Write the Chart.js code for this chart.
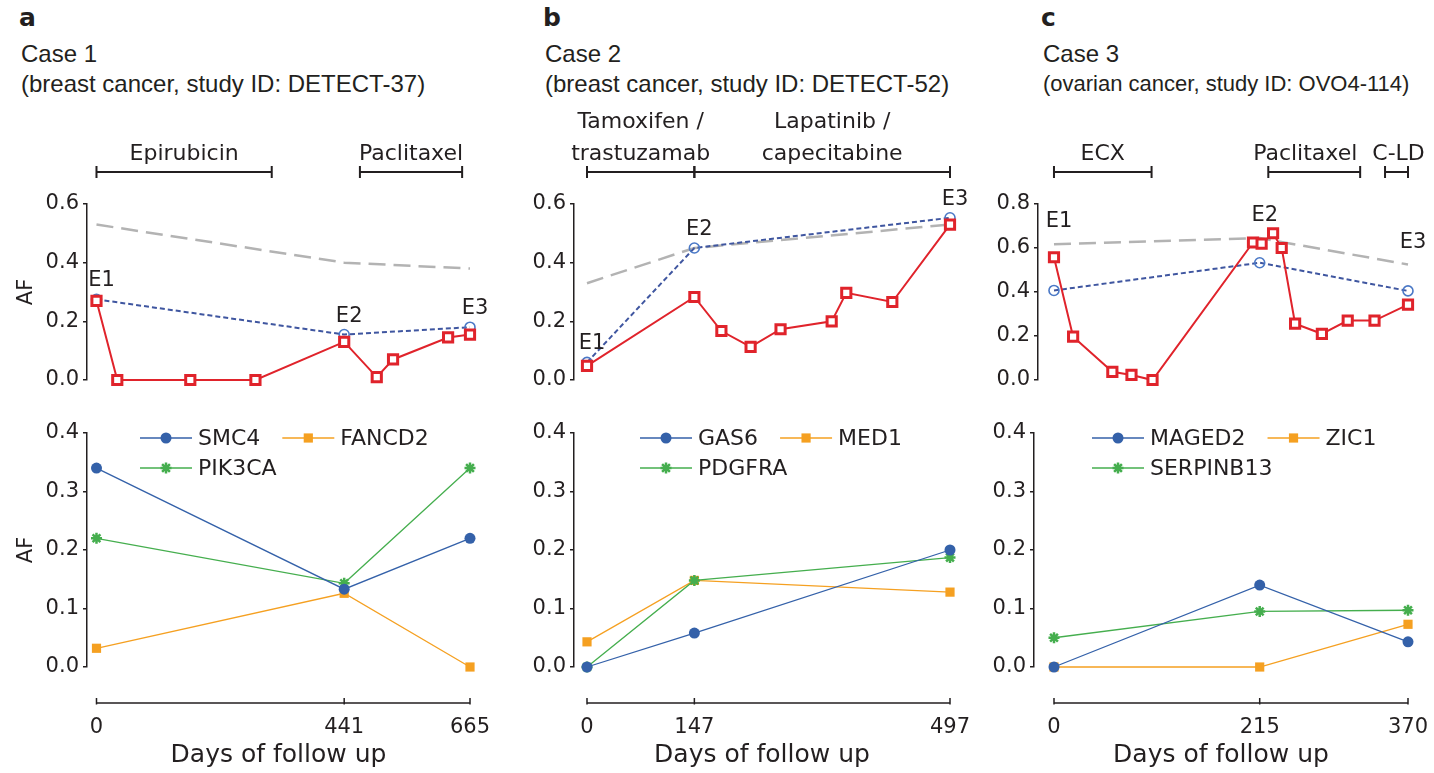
<!DOCTYPE html>
<html><head><meta charset="utf-8">
<script src="https://cdn.jsdelivr.net/npm/chart.js@4.4.1/dist/chart.umd.min.js"></script>
<style>
html,body{margin:0;padding:0;background:#fff;width:1434px;height:773px;overflow:hidden;}
canvas{position:absolute;}
.t{position:absolute;font-family:"Liberation Sans",Arial,sans-serif;color:#231f20;white-space:nowrap;font-size:24px;line-height:24px;}
.L{font-family:"DejaVu Sans",sans-serif;font-weight:bold;font-size:25px;line-height:26px;}
</style></head><body>
<div class="t L" style="left:19px;top:5px">a</div>
<div class="t" style="left:21px;top:42px">Case 1</div>
<div class="t" style="left:21px;top:72px">(breast cancer, study ID: DETECT-37)</div>
<div class="t L" style="left:543px;top:5px">b</div>
<div class="t" style="left:545px;top:42px">Case 2</div>
<div class="t" style="left:545px;top:72px">(breast cancer, study ID: DETECT-52)</div>
<div class="t L" style="left:1041px;top:5px">c</div>
<div class="t" style="left:1043px;top:42px">Case 3</div>
<div class="t" style="left:1043px;top:72px;font-size:22px;line-height:24px">(ovarian cancer, study ID: OVO4-114)</div>

<canvas id="atop" width="496" height="300" style="left:0px;top:100px"></canvas>
<canvas id="btop" width="489" height="300" style="left:487px;top:100px"></canvas>
<canvas id="ctop" width="464" height="300" style="left:970px;top:100px"></canvas>
<canvas id="abot" width="496" height="373" style="left:0px;top:400px"></canvas>
<canvas id="bbot" width="489" height="373" style="left:487px;top:400px"></canvas>
<canvas id="cbot" width="464" height="373" style="left:970px;top:400px"></canvas>

<script>
// ---------------- DATA ----------------
// Panel a - Case 1
const a_ddDays   = [0, 37, 167, 283, 441, 499, 528, 626, 665];
const a_ddAF     = [0.27, 0.0, 0.0, 0.0, 0.13, 0.01, 0.07, 0.145, 0.155];
const a_wesDays  = [0, 441, 665];
const a_wesAF    = [0.275, 0.155, 0.18];
const a_purityAF = [0.53, 0.40, 0.38];
const a_eLabels  = ['E1', 'E2', 'E3'];
const a_treatNames = [['Epirubicin'], ['Paclitaxel']];
const a_treatStart = [0, 469];
const a_treatEnd   = [312, 651];
const a_genes   = ['SMC4', 'FANCD2', 'PIK3CA'];
const a_SMC4    = [0.34, 0.133, 0.22];
const a_FANCD2  = [0.032, 0.126, 0.0];
const a_PIK3CA  = [0.22, 0.143, 0.34];
const a_xTicks  = [0, 441, 665];

// Panel b - Case 2
const b_ddDays   = [0, 147, 184, 224, 265, 335, 355, 418, 497];
const b_ddAF     = [0.048, 0.283, 0.167, 0.113, 0.173, 0.20, 0.297, 0.266, 0.53];
const b_wesDays  = [0, 147, 497];
const b_wesAF    = [0.06, 0.45, 0.553];
const b_purityAF = [0.33, 0.45, 0.53];
const b_eLabels  = ['E1', 'E2', 'E3'];
const b_treatNames = [['Tamoxifen /', 'trastuzamab'], ['Lapatinib /', 'capecitabine']];
const b_treatStart = [0, 147];
const b_treatEnd   = [147, 497];
const b_genes   = ['GAS6', 'MED1', 'PDGFRA'];
const b_GAS6    = [0.0, 0.058, 0.2];
const b_MED1    = [0.043, 0.148, 0.128];
const b_PDGFRA  = [0.0, 0.148, 0.187];
const b_xTicks  = [0, 147, 497];

// Panel c - Case 3
const c_ddDays   = [0, 20, 61, 81, 103, 208, 217, 229, 238, 252, 280, 307, 335, 370];
const c_ddAF     = [0.558, 0.197, 0.037, 0.023, 0.0, 0.625, 0.62, 0.667, 0.6, 0.256, 0.21, 0.27, 0.27, 0.343];
const c_wesDays  = [0, 215, 370];
const c_wesAF    = [0.407, 0.533, 0.405];
const c_purityAF = [0.617, 0.645, 0.525];
const c_eLabels  = ['E1', 'E2', 'E3'];
const c_treatNames = [['ECX'], ['Paclitaxel'], ['C-LD']];
const c_treatStart = [0, 224, 346];
const c_treatEnd   = [102, 320, 370];
const c_genes     = ['MAGED2', 'ZIC1', 'SERPINB13'];
const c_MAGED2    = [0.0, 0.14, 0.043];
const c_ZIC1      = [0.0, 0.0, 0.073];
const c_SERPINB13 = [0.05, 0.095, 0.097];
const c_xTicks    = [0, 215, 370];

const yTicksTop06 = [0, 0.2, 0.4, 0.6];
const yTicksTop08 = [0, 0.2, 0.4, 0.6, 0.8];
const yTicksBottom = [0, 0.1, 0.2, 0.3, 0.4];

// ---------------- STYLE / LAYOUT ----------------
const INK = '#231f20';
const COL = {red:'#e0232b', wesLine:'#3f56a0', wesPt:'#4a78c6', gray:'#b3b3b3',
             blue:'#3461a9', orange:'#f5a021', green:'#45ae4e'};
Chart.defaults.font.family = '"DejaVu Sans", sans-serif';
Chart.defaults.color = INK;

const panels = [
  {id:'a', dd:[a_ddDays,a_ddAF], wes:[a_wesDays,a_wesAF], purity:a_purityAF, eLabels:a_eLabels,
   treat:[a_treatNames,a_treatStart,a_treatEnd], treatDx:[0,0], genes:a_genes, geneVals:[a_SMC4,a_FANCD2,a_PIK3CA],
   xTicks:a_xTicks, yTop:yTicksTop06, showAF:true,
   yWTop:87, yWBot:87, xminTop:-16.9, xminBot:-16.9, padR:26, eAnchor:['dd','wes'], eGap:13, legX:53},
  {id:'b', dd:[b_ddDays,b_ddAF], wes:[b_wesDays,b_wesAF], purity:b_purityAF, eLabels:b_eLabels,
   treat:[b_treatNames,b_treatStart,b_treatEnd], treatDx:[0,10], genes:b_genes, geneVals:[b_GAS6,b_MED1,b_PDGFRA],
   xTicks:b_xTicks, yTop:yTicksTop06, showAF:false,
   yWTop:87, yWBot:87, xminTop:-17.8, xminBot:-17.8, padR:26, eAnchor:['dd','wes'], eGap:13, legX:66},
  {id:'c', dd:[c_ddDays,c_ddAF], wes:[c_wesDays,c_wesAF], purity:c_purityAF, eLabels:c_eLabels,
   treat:[c_treatNames,c_treatStart,c_treatEnd], treatDx:[0,-9,2], genes:c_genes, geneVals:[c_MAGED2,c_ZIC1,c_SERPINB13],
   xTicks:c_xTicks, yTop:yTicksTop08, showAF:false,
   yWTop:68, yWBot:64, xminTop:-16.7, xminBot:-20.9, padR:26, eAnchor:['dd','wes','purity'], eGap:17, legX:58}
];

const geneColors  = [COL.blue, COL.orange, COL.green];
const geneMarkers = ['circle', 'rect', 'star'];
const geneRadius  = [5.5, 6.5, 5.5];
const geneOrder   = [0, 2, 1];

function yAxis(ticksArr, width, showAF) {
  return {
    min: ticksArr[0], max: ticksArr[ticksArr.length-1],
    afterFit(s){ s.width = width; },
    afterBuildTicks(s){ s.ticks = ticksArr.map(v => ({value:v})); },
    ticks:{font:{size:21}, color:INK, padding:4, callback:v => Number(v).toFixed(1)},
    grid:{display:true, drawOnChartArea:false, drawTicks:true, tickLength:4, color:INK, lineWidth:1.5},
    border:{display:true, color:INK, width:1.5},
    title: showAF ? {display:true, text:'AF', font:{size:21}, color:INK, padding:{top:13.5, bottom:0}} : {display:false}
  };
}

function drawMarker(ctx, style, x, y, r, color) {
  ctx.save();
  ctx.fillStyle = color; ctx.strokeStyle = color;
  if (style === 'circle') { ctx.beginPath(); ctx.arc(x, y, r, 0, Math.PI*2); ctx.fill(); }
  else if (style === 'rect') { const s = r*Math.SQRT1_2; ctx.fillRect(x-s, y-s, 2*s, 2*s); }
  else if (style === 'star') {
    ctx.lineWidth = 2.5; ctx.beginPath();
    for (let k=0;k<4;k++){ const a = k*Math.PI/4; ctx.moveTo(x+Math.cos(a)*r, y+Math.sin(a)*r); ctx.lineTo(x-Math.cos(a)*r, y-Math.sin(a)*r); }
    ctx.stroke();
  }
  ctx.restore();
}

function valueAt(days, vals, d){ const i = days.indexOf(d); return i >= 0 ? vals[i] : -Infinity; }

panels.forEach(p => {
  // ---------- top chart ----------
  const topDeco = {
    id:'topDeco',
    afterDatasetsDraw(chart){
      const ctx = chart.ctx, xs = chart.scales.x, ys = chart.scales.y, area = chart.chartArea;
      ctx.save();
      // treatment bars
      const [names, st, en] = p.treat;
      const yb = area.top - 32;
      ctx.strokeStyle = INK; ctx.fillStyle = INK; ctx.lineWidth = 2;
      ctx.font = '22px "DejaVu Sans", sans-serif'; ctx.textAlign = 'center'; ctx.textBaseline = 'alphabetic';
      for (let i=0;i<names.length;i++){
        const x1 = xs.getPixelForValue(st[i]), x2 = xs.getPixelForValue(en[i]);
        ctx.beginPath(); ctx.moveTo(x1, yb); ctx.lineTo(x2, yb);
        ctx.moveTo(x1, yb-6); ctx.lineTo(x1, yb+6); ctx.moveTo(x2, yb-6); ctx.lineTo(x2, yb+6);
        ctx.stroke();
        const lines = names[i], cx = (x1+x2)/2 + p.treatDx[i];
        for (let j=0;j<lines.length;j++){
          ctx.fillText(lines[j], cx, yb - 12 - (lines.length-1-j)*32);
        }
      }
      // E labels
      ctx.font = '21px "DejaVu Sans", sans-serif';
      const src = {dd:p.dd, wes:p.wes, purity:[p.wes[0], p.purity]};
      p.wes[0].forEach((d, k) => {
        let top = -Infinity;
        p.eAnchor.forEach(key => { top = Math.max(top, valueAt(src[key][0], src[key][1], d)); });
        ctx.fillText(p.eLabels[k], xs.getPixelForValue(d) + 5, ys.getPixelForValue(top) - p.eGap);
      });
      ctx.restore();
    }
  };
  new Chart(document.getElementById(p.id+'top'), {
    type:'line',
    data:{datasets:[
      {label:'ddPCR', data:p.dd[0].map((d,i)=>({x:d, y:p.dd[1][i]})), borderColor:COL.red, borderWidth:2,
       pointStyle:'rect', pointRadius:6.5, pointBorderWidth:3, pointBorderColor:COL.red, pointBackgroundColor:'#fff',
       order:0, clip:false, tension:0},
      {label:'WES', data:p.wes[0].map((d,i)=>({x:d, y:p.wes[1][i]})), borderColor:COL.wesLine, borderWidth:2, borderDash:[5,3],
       pointStyle:'circle', pointRadius:5, pointBorderWidth:1.6, pointBorderColor:COL.wesPt, pointBackgroundColor:'rgba(255,255,255,0)',
       order:1, clip:false, tension:0},
      {label:'Purity', data:p.wes[0].map((d,i)=>({x:d, y:p.purity[i]})), borderColor:COL.gray, borderWidth:2.5, borderDash:[17,8],
       pointRadius:0, order:2, clip:false, tension:0}
    ]},
    options:{
      responsive:false, animation:false, devicePixelRatio:1,
      layout:{padding:{top:104, bottom:20, right:p.padR, left:0}},
      plugins:{legend:{display:false}, tooltip:{enabled:false}},
      scales:{
        x:{type:'linear', min:p.xminTop, max:p.xTicks[p.xTicks.length-1], display:false},
        y:yAxis(p.yTop, p.yWTop, p.showAF)
      }
    },
    plugins:[topDeco]
  });

  // ---------- bottom chart ----------
  const botDeco = {
    id:'botDeco',
    afterDatasetsDraw(chart){
      const ctx = chart.ctx, xs = chart.scales.x, area = chart.chartArea;
      ctx.save();
      // x axis line (offset below plot)
      const yl = area.bottom + 36;
      ctx.strokeStyle = INK; ctx.lineWidth = 1.5;
      ctx.beginPath();
      ctx.moveTo(xs.getPixelForValue(p.xTicks[0]), yl); ctx.lineTo(xs.getPixelForValue(p.xTicks[p.xTicks.length-1]), yl);
      p.xTicks.forEach(v => { const px = xs.getPixelForValue(v); ctx.moveTo(px, yl-5); ctx.lineTo(px, yl+1.5); });
      ctx.stroke();
      // legend
      ctx.font = '22px "DejaVu Sans", sans-serif'; ctx.textAlign = 'left'; ctx.textBaseline = 'middle'; ctx.fillStyle = INK;
      const rows = [[0,1],[2]];
      rows.forEach((row, r) => {
        let x = area.left + p.legX; const y = area.top + 5 + r*30;
        row.forEach(gi => {
          ctx.strokeStyle = geneColors[gi]; ctx.lineWidth = 1.4;
          ctx.beginPath(); ctx.moveTo(x, y); ctx.lineTo(x+52, y); ctx.stroke();
          drawMarker(ctx, geneMarkers[gi], x+26, y, geneRadius[gi], geneColors[gi]);
          ctx.fillStyle = INK;
          ctx.fillText(p.genes[gi], x+58, y+1);
          x += 58 + ctx.measureText(p.genes[gi]).width + 22;
        });
      });
      ctx.restore();
    }
  };
  new Chart(document.getElementById(p.id+'bot'), {
    type:'line',
    data:{datasets:p.genes.map((g, gi) => ({
      label:g, data:p.wes[0].map((d,i)=>({x:d, y:p.geneVals[gi][i]})),
      borderColor:geneColors[gi], backgroundColor:geneColors[gi], borderWidth:1.3,
      pointStyle:geneMarkers[gi], pointRadius:geneRadius[gi], pointBorderWidth: geneMarkers[gi]==='star' ? 2.5 : 0,
      pointBackgroundColor:geneColors[gi], pointBorderColor:geneColors[gi],
      order:geneOrder[gi], clip:false, tension:0
    }))},
    options:{
      responsive:false, animation:false, devicePixelRatio:1,
      layout:{padding:{top:33, bottom:3, right:p.padR, left:0}},
      plugins:{legend:{display:false}, tooltip:{enabled:false}},
      scales:{
        x:{type:'linear', min:p.xminBot, max:p.xTicks[p.xTicks.length-1],
           afterBuildTicks(s){ s.ticks = p.xTicks.map(v => ({value:v})); },
           afterFit(s){ s.height = 103; },
           ticks:{font:{size:21}, color:INK, padding:4, maxRotation:0, autoSkip:false, callback:v => String(v)},
           grid:{display:false, drawTicks:true, tickLength:44}, border:{display:false},
           title:{display:true, text:'Days of follow up', font:{size:25}, color:INK, padding:{top:2, bottom:0}}},
        y:yAxis(yTicksBottom, p.yWBot, p.showAF)
      }
    },
    plugins:[botDeco]
  });
});
</script>
</body></html>
